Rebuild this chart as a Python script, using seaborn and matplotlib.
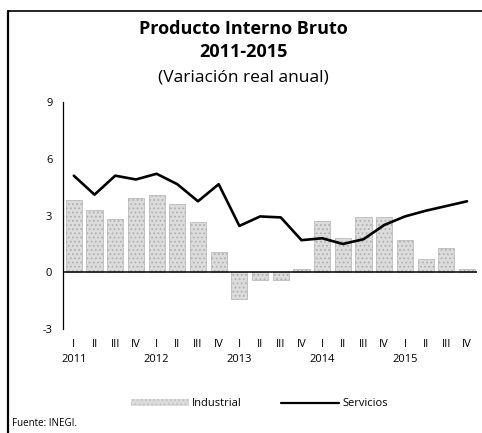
import matplotlib
matplotlib.use("Agg")
import matplotlib.pyplot as plt
import seaborn as sns
import pandas as pd
import numpy as np
from matplotlib.patches import Patch
from matplotlib.lines import Line2D

years = ["2011", "2012", "2013", "2014", "2015"]
quarters = ["I", "II", "III", "IV"]
industrial = [3.8, 3.3, 2.8, 3.9, 4.1, 3.6, 2.65, 1.1,
              -1.4, -0.4, -0.4, 0.2, 2.7, 1.8, 2.9, 2.9,
              1.7, 0.7, 1.3, 0.2]
servicios = [5.1, 4.1, 5.1, 4.9, 5.2, 4.65, 3.75, 4.65,
             2.45, 2.95, 2.9, 1.7, 1.8, 1.5, 1.75, 2.5,
             2.95, 3.25, 3.5, 3.75]

keys = [f"{y}-{q}" for y in years for q in quarters]
df = pd.DataFrame({"periodo": keys, "Industrial": industrial, "Servicios": servicios})

sns.set_style("white")
plt.rcParams["font.family"] = ["Open Sans", "DejaVu Sans"]
plt.rcParams["text.color"] = "black"
plt.rcParams["hatch.linewidth"] = 0.8

fig = plt.figure(figsize=(4.82, 4.33), dpi=100)
ax = fig.add_axes([0.1317, 0.2395, 0.8587, 0.5256])

sns.barplot(data=df, x="periodo", y="Industrial", ax=ax, color="#dcdcdc",
            width=0.78, edgecolor="#b0b0b0", linewidth=0.5, saturation=1,
            hatch="....")
sns.lineplot(data=df, x="periodo", y="Servicios", ax=ax, color="black",
             linewidth=1.9, sort=False)

ax.axhline(0, color="black", linewidth=1.1, zorder=3)
ax.set_xlim(-0.5, 19.5)
ax.set_ylim(-3, 9)
ax.set_yticks([-3, 0, 3, 6, 9])
ax.set_yticklabels(["-3", "0", "3", "6", "9"])
labels = []
for y in years:
    for q in quarters:
        labels.append(f"{q}\n{y}" if q == "I" else q)
ax.set_xticks(range(20))
ax.set_xticklabels(labels, fontsize=8, linespacing=1.5)
ax.tick_params(axis="x", length=0, pad=7, colors="black")
ax.tick_params(axis="y", direction="in", length=4, width=0.9, pad=8,
               labelsize=8, colors="black")
ax.set_xlabel("")
ax.set_ylabel("")
for s in ["top", "right", "bottom"]:
    ax.spines[s].set_visible(False)
ax.spines["left"].set_color("black")
ax.spines["left"].set_linewidth(0.9)
ax.patch.set_alpha(0)

fig.text(0.505, 0.932, "Producto Interno Bruto", ha="center", va="center",
         fontsize=13, fontweight="bold", color="black")
fig.text(0.505, 0.881, "2011-2015", ha="center", va="center",
         fontsize=13, fontweight="bold", color="black")
fig.text(0.505, 0.820, "(Variación real anual)", ha="center", va="center",
         fontsize=12.5, color="black")

handles = [Patch(facecolor="#dcdcdc", edgecolor="#c0c0c0", hatch="....", linewidth=0),
           Line2D([0], [0], color="black", linewidth=1.6)]
leg = fig.legend(handles, ["Industrial", "Servicios"], loc="center",
                 bbox_to_anchor=(0.538, 1 - 404 / 433), ncol=2, frameon=False,
                 handlelength=5.2, handleheight=0.6, columnspacing=3.5,
                 handletextpad=0.3, fontsize=8)
for t in leg.get_texts():
    t.set_color("black")

fig.text(12 / 482, 1 - 424 / 433, "Fuente: INEGI.", ha="left", va="center",
         fontsize=7, color="black")

fig.add_artist(Line2D([8 / 482, 8 / 482], [0, 1 - 11 / 433], color="black",
                      linewidth=1.6, transform=fig.transFigure))
fig.add_artist(Line2D([8 / 482, 1], [1 - 11 / 433, 1 - 11 / 433], color="black",
                      linewidth=1.2, transform=fig.transFigure))

fig.savefig("out.png", dpi=100)
